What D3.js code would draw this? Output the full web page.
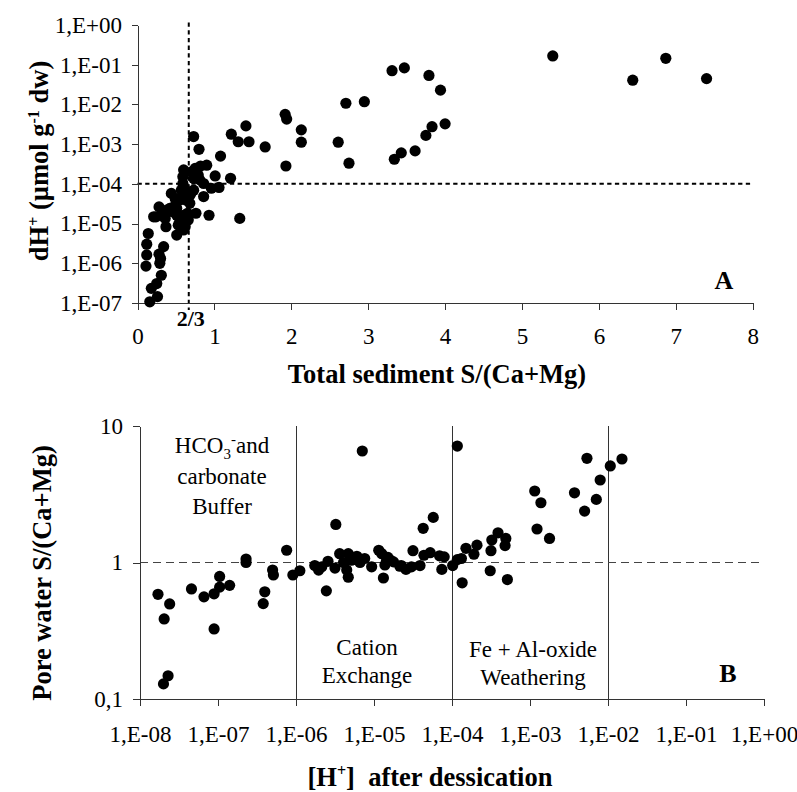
<!DOCTYPE html>
<html><head><meta charset="utf-8">
<script src="https://cdn.jsdelivr.net/npm/d3@7"></script>
<style>body{margin:0;background:#fff}svg{display:block}text{font-family:"Liberation Serif","Times New Roman",serif;fill:#000}</style>
</head><body>
<svg id="c" width="797" height="792"></svg>
<script>
// Panel A: Total sediment S/(Ca+Mg) vs dH+
const aX = [0.16,0.26,0.18,0.25,0.31,0.29,0.30,0.28,0.34,0.11,0.12,0.12,0.14,0.37,0.24,0.28,0.44,0.51,0.60,0.59,
  0.73,0.80,1.08,1.22,1.31,1.41,1.45,1.66,1.21,1.33,0.93,0.86,1.06,1.01,0.90,0.82,0.75,0.79,0.73,0.81,
  0.96,0.86,0.60,0.66,0.55,0.68,0.47,0.38,0.33,0.21,0.51,0.60,0.65,0.76,0.55,0.66,0.53,0.62,0.42,0.49,
  0.57,0.63,0.69,0.73,0.51,0.36,0.59,0.62,0.45,0.70,0.60,
  1.92,1.94,2.13,2.13,2.61,2.71,2.95,2.75,1.93,3.31,3.47,3.79,3.94,4.00,3.83,3.75,3.61,3.43,3.34,
  5.40,6.44,6.87,7.40];
const aY = [1.07e-7,1.45e-7,2.34e-7,3.09e-7,5.0e-7,1.0e-6,1.32e-6,1.70e-6,2.63e-6,8.5e-7,1.62e-6,3.02e-6,5.62e-6,8.32e-6,1.48e-5,2.63e-5,5.75e-5,5.13e-6,6.92e-6,1.51e-4,
  1.55e-3,7.41e-4,5.0e-4,1.78e-3,1.15e-3,2.88e-3,1.15e-3,8.51e-4,1.38e-4,1.35e-5,1.62e-5,4.79e-5,8.13e-5,1.58e-4,2.95e-4,2.82e-4,2.45e-4,1.66e-4,1.38e-4,1.26e-4,
  7.76e-5,1.02e-4,8.51e-5,4.79e-5,3.89e-5,3.24e-5,2.63e-5,2.19e-5,1.62e-5,1.48e-5,1.62e-5,1.62e-5,1.82e-5,1.82e-5,1.12e-5,1.23e-5,9.12e-6,8.32e-6,2.40e-5,4.27e-5,
  6.92e-5,3.89e-5,5.50e-5,6.92e-5,2.40e-5,1.35e-5,1.02e-4,6.17e-5,2.0e-5,2.0e-4,2.24e-4,
  5.62e-3,4.27e-3,2.29e-3,1.12e-3,1.12e-3,1.07e-2,1.17e-2,3.31e-4,2.82e-4,7.08e-2,8.32e-2,5.37e-2,2.29e-2,3.24e-3,2.75e-3,1.66e-3,6.76e-4,6.03e-4,4.17e-4,
  0.166,4.07e-2,0.145,4.47e-2];
const aXTicks = [0,1,2,3,4,5,6,7,8];
const aYTicks = [1e-7,1e-6,1e-5,1e-4,1e-3,1e-2,1e-1,1];

// Panel B: [H+] after dessication vs pore water S/(Ca+Mg)
const bX = [1.7e-8,2.04e-8,2.4e-8,2.0e-8,2.29e-8,4.57e-8,6.61e-8,8.91e-8,1.05e-7,1.05e-7,1.41e-7,8.91e-8,2.29e-7,2.29e-7,3.8e-7,3.98e-7,5.01e-7,5.13e-7,7.59e-7,9.12e-7,
  1.12e-6,7.08e-6,3.24e-6,2.45e-6,1.74e-6,1.95e-6,2.14e-6,2.57e-6,3.16e-6,3.63e-6,4.07e-6,4.47e-6,4.68e-6,4.68e-6,5.13e-6,6.03e-6,6.61e-6,7.59e-6,9.33e-6,1.15e-5,
  1.26e-5,1.32e-5,1.45e-5,1.51e-5,1.78e-5,2.14e-5,1.17e-4,5.37e-3,1.07e-2,1.51e-2,7.94e-3,3.72e-3,7.08e-3,5.01e-3,1.15e-3,1.38e-3,1.23e-3,1.78e-3,3.89e-4,4.9e-4,
  4.79e-4,3.24e-4,3.16e-4,2.09e-4,1.91e-4,1.51e-4,1.32e-4,1.17e-4,1.02e-4,1.35e-4,3.09e-4,5.13e-4,5.75e-5,4.27e-5,3.16e-5,4.37e-5,5.25e-5,6.92e-5,7.94e-5,7.41e-5,
  3.89e-5,3.02e-5,2.57e-5,2.24e-5,1.62e-5,1.38e-5];
const bY = [0.585,0.386,0.497,0.129,0.148,0.64,0.56,0.59,0.66,0.79,0.68,0.326,1.06,1.0,0.50,0.61,0.88,0.81,1.23,0.81,
  0.87,6.56,1.9,0.62,0.95,0.88,0.93,1.02,0.91,1.16,1.0,0.88,1.16,0.78,1.04,1.11,1.0,1.07,0.93,1.23,
  1.16,0.77,1.04,1.09,1.01,0.94,7.13,5.8,5.1,5.73,4.02,3.24,2.9,2.38,3.34,2.74,1.76,1.50,1.65,1.50,
  1.33,1.46,1.22,1.34,1.15,1.27,1.07,1.05,0.95,0.71,0.87,0.75,2.14,1.78,1.22,1.13,1.18,1.12,1.10,0.89,
  0.95,0.93,0.89,0.95,1.04,0.96];
const bXTicks = [1e-8,1e-7,1e-6,1e-5,1e-4,1e-3,1e-2,1e-1,1];
const bYTicks = [0.1,1,10];
const bYTickLabels = ["0,1","1","10"];
const bZones = [1e-6,1e-4,1e-2];

const svg = d3.select("#c");
const FONT = '"Liberation Serif","Times New Roman",serif';
function sci(v){ const e = Math.round(Math.log10(v)); return "1,E" + (e>=0?"+":"-") + String(Math.abs(e)).padStart(2,"0"); }
function styleAxis(g){ g.selectAll("path,line").attr("stroke","#333").attr("stroke-width",1).attr("shape-rendering","crispEdges"); g.selectAll("text").style("font-family",FONT).style("font-size","23px").attr("fill","#000"); }

// ===== Panel A =====
const axS = d3.scaleLinear().domain([0,8]).range([137.5,752.7]);
const ayS = d3.scaleLog().domain([1e-7,1]).range([303,25]);
const gA = svg.append("g");
// reference lines
gA.append("line").attr("x1",axS(0)).attr("x2",axS(8)).attr("y1",ayS(1e-4)).attr("y2",ayS(1e-4))
  .attr("stroke","#000").attr("stroke-width",2).attr("stroke-dasharray","4.3,3.4");
gA.append("line").attr("x1",axS(2/3)).attr("x2",axS(2/3)).attr("y1",22.5).attr("y2",310)
  .attr("stroke","#000").attr("stroke-width",2).attr("stroke-dasharray","4.3,3.4");
const gAx = gA.append("g").attr("transform",`translate(0,${ayS(1e-7)})`)
  .call(d3.axisBottom(axS).tickValues(aXTicks).tickFormat(d3.format("d")).tickSize(7).tickSizeOuter(0));
styleAxis(gAx); gAx.selectAll("text").attr("dy",null).attr("y",41);
const gAy = gA.append("g").attr("transform",`translate(${axS(0)},0)`)
  .call(d3.axisLeft(ayS).tickValues(aYTicks).tickFormat(sci).tickSize(6).tickSizeOuter(0).tickPadding(9.5));
styleAxis(gAy);
gA.append("g").selectAll("circle").data(aX.map((x,i)=>[x,aY[i]])).join("circle")
  .attr("cx",d=>axS(d[0])).attr("cy",d=>ayS(d[1])).attr("r",5.6).attr("fill","#000");
gA.append("text").attr("x",axS(2/3)+2).attr("y",326).attr("text-anchor","middle")
  .style("font-size","22px").style("font-weight","bold").text("2/3");
gA.append("text").attr("x",724).attr("y",289).attr("text-anchor","middle")
  .style("font-size","26px").style("font-weight","bold").text("A");
gA.append("text").attr("x",437).attr("y",383).attr("text-anchor","middle")
  .style("font-size","26.5px").style("font-weight","bold").text("Total sediment S/(Ca+Mg)");
const tA = gA.append("text").attr("transform","translate(48,161) rotate(-90)").attr("text-anchor","middle")
  .style("font-size","26.5px").style("font-weight","bold");
tA.append("tspan").text("dH");
tA.append("tspan").attr("dy",-9).style("font-size","16px").text("+");
tA.append("tspan").attr("dy",9).text(" (µmol g");
tA.append("tspan").attr("dy",-9).style("font-size","16px").text("-1");
tA.append("tspan").attr("dy",9).text(" dw)");

// ===== Panel B =====
const bxS = d3.scaleLog().domain([1e-8,1]).range([140,764]);
const byS = d3.scaleLog().domain([0.1,10]).range([699,426]);
const gB = svg.append("g");
gB.append("g").selectAll("line").data(bZones).join("line")
  .attr("x1",d=>bxS(d)).attr("x2",d=>bxS(d)).attr("y1",byS(10)).attr("y2",byS(0.1))
  .attr("stroke","#333").attr("stroke-width",1).attr("shape-rendering","crispEdges");
gB.append("line").attr("x1",bxS(1e-8)).attr("x2",bxS(1)).attr("y1",byS(1)).attr("y2",byS(1))
  .attr("stroke","#444").attr("stroke-width",1).attr("stroke-dasharray","8,5").attr("shape-rendering","crispEdges");
const gBx = gB.append("g").attr("transform",`translate(0,${byS(0.1)})`)
  .call(d3.axisBottom(bxS).tickValues(bXTicks).tickFormat(sci).tickSize(7).tickSizeOuter(0));
styleAxis(gBx); gBx.selectAll("text").attr("dy",null).attr("y",43);
const gBy = gB.append("g").attr("transform",`translate(${bxS(1e-8)},0)`)
  .call(d3.axisLeft(byS).tickValues(bYTicks).tickFormat((d,i)=>bYTickLabels[i]).tickSize(7).tickSizeOuter(0).tickPadding(10));
styleAxis(gBy);
gB.append("g").selectAll("circle").data(bX.map((x,i)=>[x,bY[i]])).join("circle")
  .attr("cx",d=>bxS(d[0])).attr("cy",d=>byS(d[1])).attr("r",5.6).attr("fill","#000");
// zone annotations
function ann(x,y,t){ return gB.append("text").attr("x",x).attr("y",y).attr("text-anchor","middle").style("font-size","23px").text(t); }
const h = gB.append("text").attr("x",222).attr("y",453).attr("text-anchor","middle").style("font-size","23px");
h.append("tspan").text("HCO");
h.append("tspan").attr("dy",6).style("font-size","15px").text("3");
h.append("tspan").attr("dy",-15).style("font-size","15px").text("-");
h.append("tspan").attr("dy",9).text("and");
ann(222,484,"carbonate");
ann(222,514,"Buffer");
ann(367,655,"Cation");
ann(367,683,"Exchange");
ann(533,657,"Fe + Al-oxide");
ann(533,685,"Weathering");
gB.append("text").attr("x",728).attr("y",682).attr("text-anchor","middle")
  .style("font-size","26px").style("font-weight","bold").text("B");
const tBx = gB.append("text").attr("x",430).attr("y",786).attr("text-anchor","middle")
  .style("font-size","26.5px").style("font-weight","bold");
tBx.append("tspan").text("[H");
tBx.append("tspan").attr("dy",-10).style("font-size","16px").text("+");
tBx.append("tspan").attr("dy",10).text("]  after dessication");
tBx.attr("xml:space","preserve");
gB.append("text").attr("transform","translate(51,573) rotate(-90)").attr("text-anchor","middle")
  .style("font-size","26.5px").style("font-weight","bold").text("Pore water S/(Ca+Mg)");
</script>
</body></html>
